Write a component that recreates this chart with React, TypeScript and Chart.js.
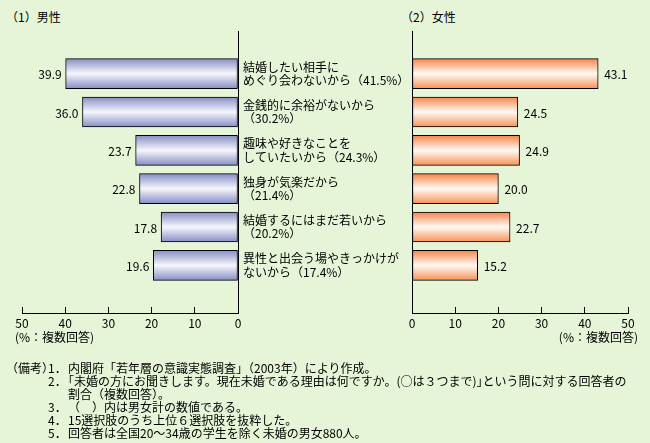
import React, { useEffect, useRef } from 'react';
import { Chart, registerables } from 'chart.js';

Chart.register(...registerables);

const FONT = "'Noto Sans CJK JP', 'Noto Sans', sans-serif";

const categories: string[][] = [
  ['結婚したい相手に', 'めぐり会わないから（41.5%）'],
  ['金銭的に余裕がないから', '（30.2%）'],
  ['趣味や好きなことを', 'していたいから（24.3%）'],
  ['独身が気楽だから', '（21.4%）'],
  ['結婚するにはまだ若いから', '（20.2%）'],
  ['異性と出会う場やきっかけが', 'ないから（17.4%）'],
];
const menValues = [39.9, 36.0, 23.7, 22.8, 17.8, 19.6];
const womenValues = [43.1, 24.5, 24.9, 20.0, 22.7, 15.2];
const xTickValues = [0, 10, 20, 30, 40, 50];

const menTitle = '（1）男性';
const womenTitle = '（2）女性';
const unitLabel = '(%：複数回答)';

const notesHead = '（備考）';
const notes: [string, string][] = [
  ['1．', '内閣府「若年層の意識実態調査」（2003年）により作成。'],
  ['2．', '｢未婚の方にお聞きします。現在未婚である理由は何ですか。(○は３つまで)｣という問に対する回答者の'],
  ['', '割合（複数回答）。'],
  ['3．', '（　）内は男女計の数値である。'],
  ['4．', '15選択肢のうち上位６選択肢を抜粋した。'],
  ['5．', '回答者は全国20～34歳の学生を除く未婚の男女880人。'],
];

const menStops = ['#868ec4', '#f6f6fc', '#868ec4'];
const womenStops = ['#f6844a', '#fffaf4', '#f79258'];

function gradientFill(stops: string[]) {
  return (ctx: any) => {
    const chart = ctx.chart;
    const y = chart.scales && chart.scales.y;
    if (!y || ctx.dataIndex === undefined || ctx.type !== 'data') return stops[0];
    const c = y.getPixelForValue(ctx.dataIndex);
    if (!Number.isFinite(c)) return stops[0];
    const g = chart.ctx.createLinearGradient(0, c - 15, 0, c + 15);
    g.addColorStop(0, stops[0]);
    g.addColorStop(0.5, stops[1]);
    g.addColorStop(1, stops[2]);
    return g;
  };
}

function valueLabelPlugin(side: 'left' | 'right') {
  return {
    id: 'valueLabels' + side,
    afterDatasetsDraw(chart: any) {
      const ctx = chart.ctx;
      const meta = chart.getDatasetMeta(0);
      const data = chart.data.datasets[0].data as any[];
      ctx.save();
      ctx.font = `12px ${FONT}`;
      ctx.fillStyle = '#000';
      ctx.textBaseline = 'middle';
      meta.data.forEach((el: any, i: number) => {
        const txt = Number(data[i].x).toFixed(1);
        if (side === 'left') {
          ctx.textAlign = 'right';
          ctx.fillText(txt, el.x - 4, el.y + 1);
        } else {
          ctx.textAlign = 'left';
          ctx.fillText(txt, el.x + 6, el.y + 1);
        }
      });
      ctx.restore();
    },
  };
}

function makeChart(canvas: HTMLCanvasElement, side: 'left' | 'right') {
  const values = side === 'left' ? menValues : womenValues;
  const stops = side === 'left' ? menStops : womenStops;
  return new Chart(canvas, {
    type: 'bar',
    data: {
      datasets: [
        {
          data: values.map((v, i) => ({ x: v, y: i })),
          backgroundColor: gradientFill(stops) as any,
          borderColor: '#000',
          borderWidth: 1,
          borderSkipped: false,
          barThickness: 30,
        } as any,
      ],
    },
    options: {
      responsive: false,
      animation: false,
      indexAxis: 'y',
      layout: {
        padding:
          side === 'left'
            ? { left: 22, right: 412, top: 31, bottom: 17 }
            : { left: 243, right: 22, top: 31, bottom: 17 },
      },
      plugins: {
        legend: { display: false },
        tooltip: { enabled: false },
        title: { display: false },
      },
      scales: {
        x: {
          type: 'linear',
          position: 'bottom',
          reverse: side === 'left',
          min: 0,
          max: 50,
          afterBuildTicks: (scale: any) => {
            scale.ticks = xTickValues.map((v) => ({ value: v }));
          },
          afterFit: (scale: any) => {
            scale.height = 20;
          },
          grid: {
            display: true,
            drawOnChartArea: false,
            drawTicks: true,
            tickLength: -6,
            color: '#000',
            lineWidth: 1,
          },
          border: { display: true, color: '#000', width: 1 },
          ticks: {
            padding: 9,
            color: '#000',
            font: { family: FONT, size: 12 },
            maxRotation: 0,
          },
        },
        y: {
          type: 'linear',
          position: side === 'left' ? 'right' : 'left',
          reverse: true,
          min: -0.5,
          max: 5.63,
          afterBuildTicks: (scale: any) => {
            scale.ticks = categories.map((_, i) => ({ value: i }));
          },
          afterFit: (scale: any) => {
            scale.width = side === 'left' ? 0 : 169;
          },
          grid: { display: false, drawTicks: false },
          border: { display: true, color: '#000', width: 1 },
          ticks: {
            display: side === 'right',
            crossAlign: 'far',
            padding: 0,
            color: '#000',
            font: { family: FONT, size: 12, lineHeight: 1.12 },
            callback: (value: any) => categories[Number(value)] as any,
          },
        },
      },
    } as any,
    plugins: [valueLabelPlugin(side)],
  });
}

function BarCanvas({ side }: { side: 'left' | 'right' }) {
  const ref = useRef<HTMLCanvasElement | null>(null);
  useEffect(() => {
    if (!ref.current) return;
    const chart = makeChart(ref.current, side);
    return () => chart.destroy();
  }, [side]);
  return (
    <canvas
      ref={ref}
      width={650}
      height={350}
      style={{ position: 'absolute', left: 0, top: 0, width: 650, height: 350 }}
    />
  );
}

export default function App() {
  const text: React.CSSProperties = {
    position: 'absolute',
    fontFamily: FONT,
    fontSize: 12,
    lineHeight: '14px',
    color: '#000',
    whiteSpace: 'nowrap',
  };
  return (
    <div
      style={{
        position: 'absolute',
        left: 0,
        top: 0,
        width: 650,
        height: 443,
        background: '#e6f5d7',
        overflow: 'hidden',
      }}
    >
      <div style={{ ...text, left: 6, top: 10 }}>{menTitle}</div>
      <div style={{ ...text, left: 401, top: 10 }}>{womenTitle}</div>
      <BarCanvas side="left" />
      <BarCanvas side="right" />
      <div style={{ ...text, left: 15, top: 330 }}>{unitLabel}</div>
      <div style={{ ...text, right: 12, top: 330 }}>{unitLabel}</div>
      <div style={{ ...text, left: 6, top: 361, lineHeight: '13px' }}>
        {notes.map(([num, body], i) => (
          <div key={i} style={{ display: 'flex' }}>
            <span style={{ width: 42, display: 'inline-block' }}>{i === 0 ? notesHead : ''}</span>
            <span style={{ width: 20, display: 'inline-block' }}>{num}</span>
            <span>{body}</span>
          </div>
        ))}
      </div>
    </div>
  );
}
